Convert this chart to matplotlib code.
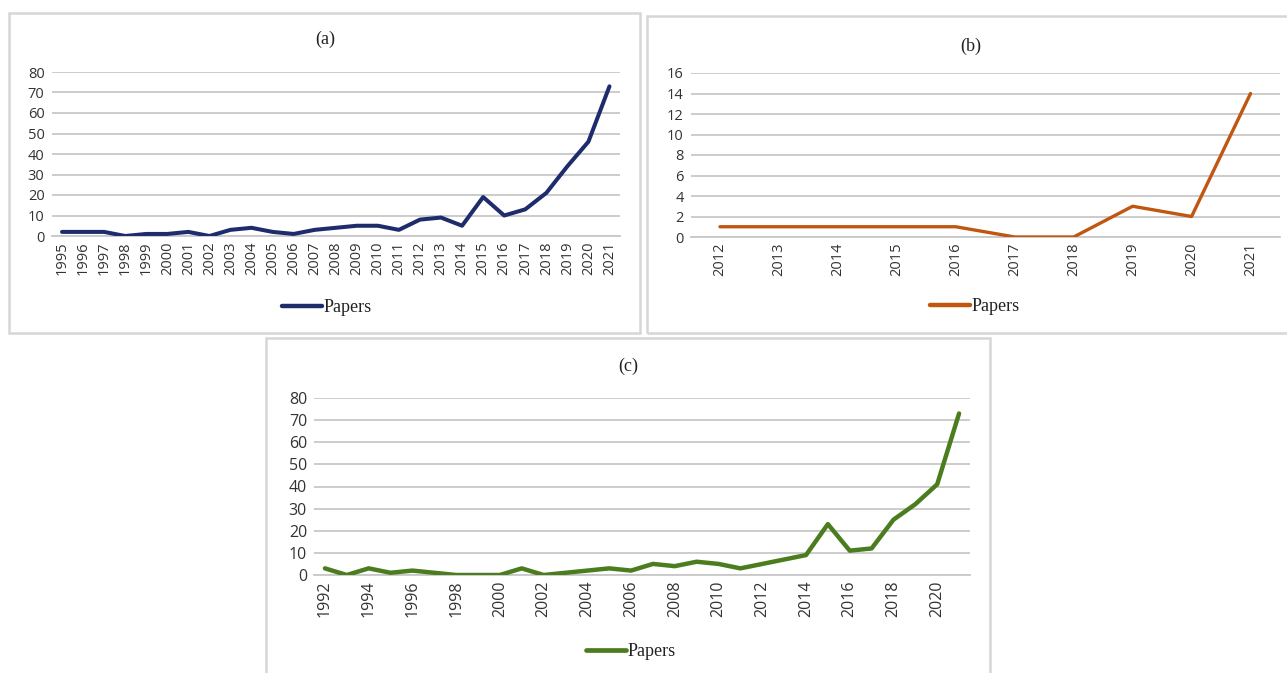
import matplotlib
matplotlib.use("Agg")
import matplotlib.pyplot as plt
from matplotlib.patches import Rectangle

W, H = 1287, 673

# ---------------- data ----------------
years_a = [str(y) for y in range(1995, 2022)]
papers_a = [2, 2, 2, 0, 1, 1, 2, 0, 3, 4, 2, 1, 3, 4, 5, 5, 3, 8, 9, 5, 19, 10, 13, 21, 34, 46, 73]

years_b = [str(y) for y in range(2012, 2022)]
papers_b = [1, 1, 1, 1, 1, 0, 0, 3, 2, 14]

years_c = [str(y) for y in range(1992, 2022)]
papers_c = [3, 0, 3, 1, 2, 1, 0, 0, 0, 3, 0, 1, 2, 3, 2, 5, 4, 6, 5, 3, 5, 7, 9, 23, 11, 12, 25, 32, 41, 73]

titles = ["(a)", "(b)", "(c)"]
series_name = "Papers"
colors = ["#1f2c6c", "#c0560f", "#4b7d1f"]

fig = plt.figure(figsize=(W / 100, H / 100), dpi=100)
fig.patch.set_facecolor("white")

def fx(x):
    return x / W

def fy(y):
    return 1 - y / H

def box(x0, y0, x1, y1):
    r = Rectangle((fx(x0), fy(y1)), fx(x1) - fx(x0), fy(y0) - fy(y1),
                  transform=fig.transFigure, fill=False, edgecolor="#d6d6d6",
                  linewidth=1.8, zorder=0)
    fig.patches.append(r)

def panel(x0, x1, ytop, ybot, labels, values, color, ymax, ystep, fs, lw, step,
          title, title_xy, leg_xy, leg_lw):
    ax = fig.add_axes([fx(x0), fy(ybot), fx(x1) - fx(x0), fy(ytop) - fy(ybot)])
    n = len(labels)
    xs = list(range(n))
    ax.plot(xs, values, color=color, linewidth=lw, solid_capstyle="round",
            solid_joinstyle="round", label=series_name, zorder=3)
    ax.set_xlim(-0.5, n - 0.5)
    ax.set_ylim(0, ymax)
    ax.set_yticks(list(range(0, ymax + 1, ystep)))
    ax.set_xticks(xs[::step])
    ax.set_xticklabels(labels[::step], rotation=90, fontsize=fs, color="#333333",
                       family="Open Sans")
    for t in ax.get_yticklabels():
        t.set_fontsize(fs)
        t.set_color("#333333")
        t.set_family("Open Sans")
    ax.tick_params(axis="both", length=0)
    ax.tick_params(axis="y", pad=5)
    ax.tick_params(axis="x", pad=4)
    ax.grid(axis="y", color="#c8c8c8", linewidth=1.3)
    ax.set_axisbelow(True)
    for s in ["top", "right", "left"]:
        ax.spines[s].set_visible(False)
    ax.spines["bottom"].set_color("#c8c8c8")
    ax.spines["bottom"].set_linewidth(1.3)
    ax.patch.set_alpha(0)
    fig.text(fx(title_xy[0]), fy(title_xy[1]), title, ha="center", va="center",
             fontsize=13, family="Liberation Serif", color="#222222")
    leg = ax.legend(loc="center", bbox_to_anchor=(fx(leg_xy[0]), fy(leg_xy[1])),
                    bbox_transform=fig.transFigure, frameon=False,
                    prop={"family": "Liberation Serif", "size": 13},
                    handlelength=2.2, handletextpad=0.1, labelcolor="#222222")
    for h in leg.get_lines():
        h.set_linewidth(leg_lw)
    return ax

box(9, 13, 640, 333)
box(647, 16, 1300, 333)
box(266, 338, 990, 700)

panel(51.5, 620, 72, 236, years_a, papers_a, colors[0], 80, 10, 10.5, 2.9, 1,
      titles[0], (325, 39), (327, 308), 3.2)
panel(690.5, 1280, 73, 237, years_b, papers_b, colors[1], 16, 2, 10.5, 2.4, 1,
      titles[1], (971, 46), (975, 307), 3.2)
panel(314, 970, 398, 575, years_c, papers_c, colors[2], 80, 10, 11.5, 3.2, 2,
      titles[2], (628, 366), (631, 652), 3.4)

fig.savefig("out.png", dpi=100, facecolor="white")
